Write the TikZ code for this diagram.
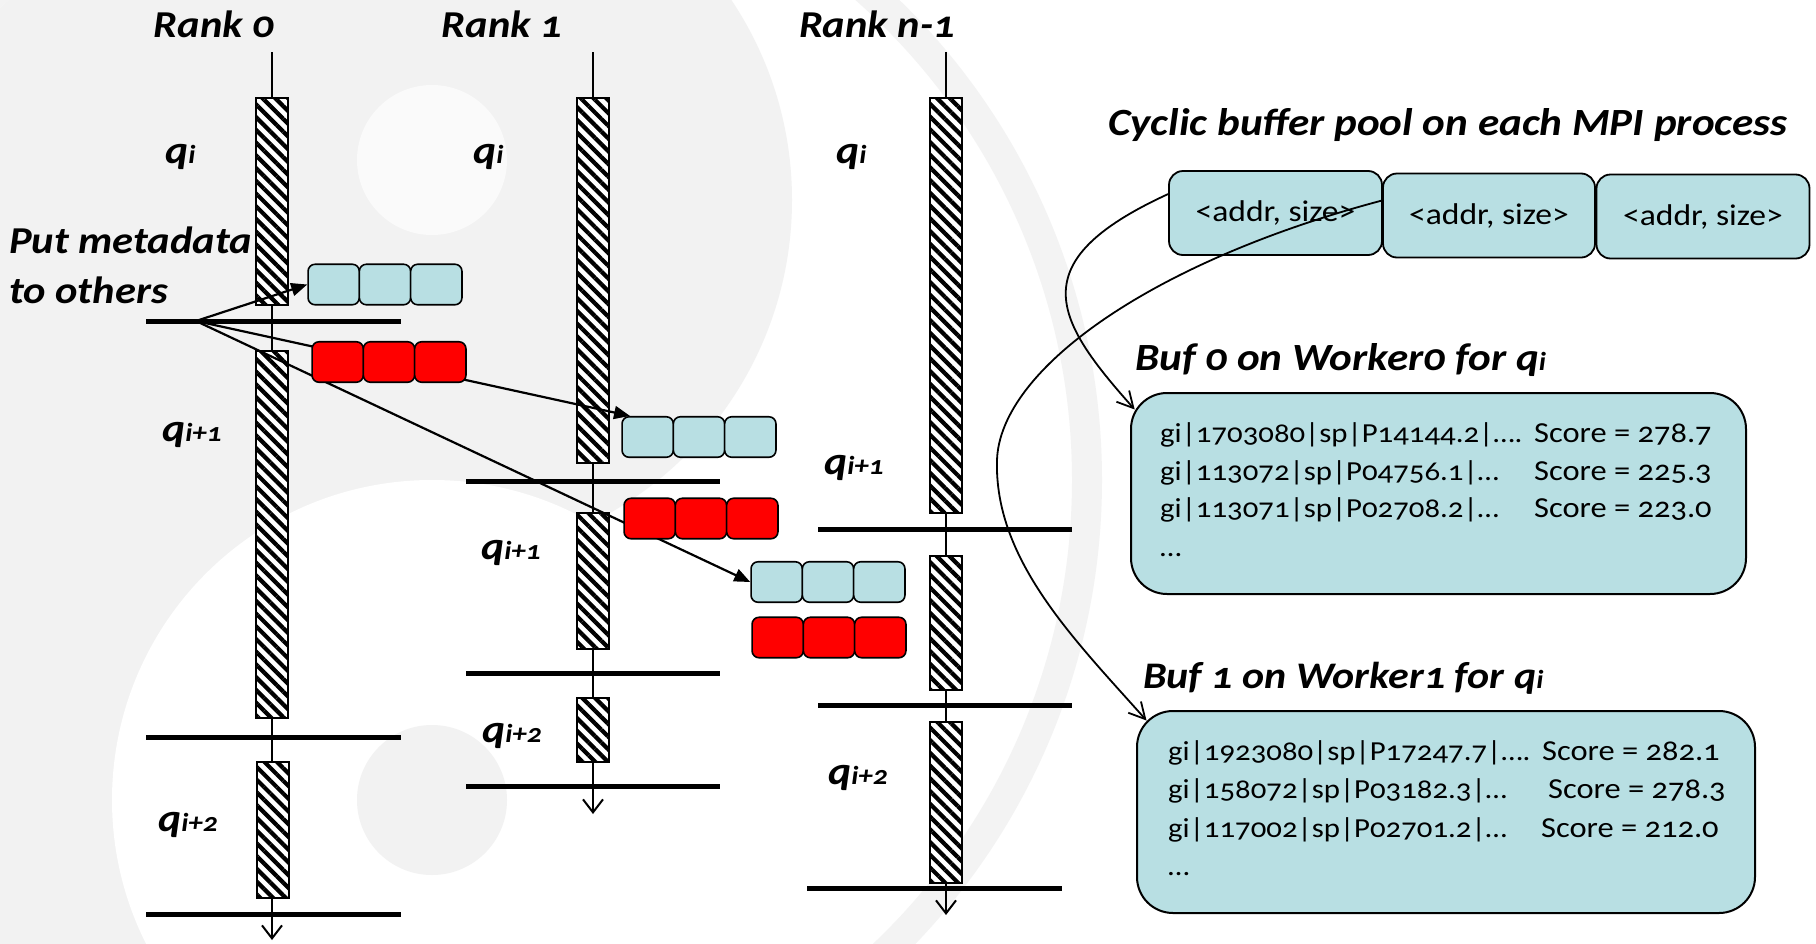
\documentclass[tikz,border=0pt]{standalone}
\usepackage{fontspec}
\setmainfont{Carlito}[FakeStretch=1.12,Numbers=OldStyle]
\usetikzlibrary{arrows.meta,patterns.meta,calc}

\definecolor{cellblue}{HTML}{B8DFE3}
\definecolor{cellred}{HTML}{FF0000}
\definecolor{wmgray}{HTML}{F2F2F2}
\definecolor{wmring}{HTML}{F3F3F3}

% index after a bold italic q
\newcommand\qsub[1]{q{\fontsize{26}{28}\selectfont #1}}

\tikzset{
  life/.style={line width=2pt,-{Straight Barb[length=13pt,width=20pt]}},
  hatchbar/.style={draw,line width=2pt,preaction={fill=white},
    pattern={Lines[angle=-45,distance=9pt,line width=4.2pt]},
    inner sep=0pt,minimum width=32pt},
  sync/.style={line width=5pt},
  fanarrow/.style={line width=2.2pt,-{Triangle[length=16pt,width=13pt]}},
  cellb/.style={draw,line width=1.6pt,fill=cellblue,rounded corners=7pt,
    inner sep=0pt,minimum width=51.3pt,minimum height=40.5pt},
  cellr/.style={cellb,fill=cellred},
  addrbox/.style={draw,line width=1.8pt,fill=cellblue,rounded corners=14pt,
    inner sep=0pt,minimum width=213pt,minimum height=84pt,
    font=\fontsize{30}{32}\selectfont},
  bufbox/.style={draw,line width=2pt,fill=cellblue,rounded corners=36pt,
    inner sep=0pt},
  curvearrow/.style={line width=1.8pt,-{Straight Barb[length=16pt,width=17pt]}},
  ranklabel/.style={font=\fontsize{38}{42}\selectfont\bfseries\itshape,
    anchor=base,inner sep=0pt},
  qlabel/.style={font=\fontsize{39}{42}\selectfont\bfseries\itshape,
    anchor=base west,inner sep=0pt},
  bigtitle/.style={font=\fontsize{38.5}{42}\selectfont\bfseries\itshape,
    anchor=base west,inner sep=0pt},
  sidetext/.style={font=\fontsize{38}{42}\selectfont\bfseries\itshape,
    anchor=base west,inner sep=0pt},
  hit/.style={font=\fontsize{27.5}{30}\selectfont,anchor=base west,inner sep=0pt},
  score/.style={font=\fontsize{29}{32}\selectfont,anchor=base west,inner sep=0pt},
}

\begin{document}
\begin{tikzpicture}[x=1pt,y=-1pt]
\useasboundingbox (0,0) rectangle (1816,943);

% faint yin-yang watermark in the background
\fill[white] (0,0) rectangle (1816,943);
\begin{scope}
  \clip (432,480) circle[radius=640];
  \fill[wmgray] (-300,-300) rectangle (432,1300);
  \fill[wmgray] (432,200) circle[radius=360];
\end{scope}
\fill[white] (432,800) circle[radius=320];
\fill[white!60!wmgray] (432,160) circle[radius=75];
\fill[wmgray] (432,800) circle[radius=75];
\draw[wmring,line width=30pt] (432,480) circle[radius=655];

% time lines of the three ranks
\coordinate (l0top) at (272,52);  \coordinate (l0bot) at (272,940);
\coordinate (l1top) at (593,52);  \coordinate (l1bot) at (593,814);
\coordinate (l2top) at (946,52);  \coordinate (l2bot) at (946,915);
\draw[life] (l0top) -- (l0bot);
\draw[life] (l1top) -- (l1bot);
\draw[life] (l2top) -- (l2bot);

% computation phases
\node[hatchbar,minimum height=207pt] (r0p0) at (272,201.5) {};
\node[hatchbar,minimum height=367pt] (r0p1) at (272,534.5) {};
\node[hatchbar,minimum height=136pt] (r0p2) at (273,830) {};
\node[hatchbar,minimum height=365pt] (r1p0) at (593,280.5) {};
\node[hatchbar,minimum height=136pt] (r1p1) at (593,581) {};
\node[hatchbar,minimum height=64pt]  (r1p2) at (593,730) {};
\node[hatchbar,minimum height=415pt] (r2p0) at (946,305.5) {};
\node[hatchbar,minimum height=134pt] (r2p1) at (946,623) {};
\node[hatchbar,minimum height=161pt] (r2p2) at (946,802.5) {};

% query boundaries
\draw[sync] (146,321) -- (401,321);
\draw[sync] (146,737) -- (401,737);
\draw[sync] (146,914) -- (401,914);
\draw[sync] (466,481) -- (720,481);
\draw[sync] (466,673) -- (720,673);
\draw[sync] (466,786) -- (720,786);
\draw[sync] (818,529) -- (1072,529);
\draw[sync] (818,705) -- (1072,705);
\draw[sync] (807,888) -- (1062,888);

% metadata buffers
\foreach \k/\n in {0/a,1/b,2/c}{
  \node[cellb] (b0\n) at ({333.7+51.3*\k},284.5) {};
  \node[cellb] (b1\n) at ({647.7+51.3*\k},437) {};
  \node[cellb] (b2\n) at ({776.7+51.3*\k},582) {};
}

% metadata is put from rank 0 to the others
\coordinate (fan) at (196,321);
\draw[fanarrow] (fan) -- (b0a.west);
\draw[fanarrow] (fan) -- (b1a.130);
\draw[fanarrow] (fan) -- (b2a.west);

\foreach \k/\n in {0/a,1/b,2/c}{
  \node[cellr] (c0\n) at ({337.7+51.3*\k},362) {};
  \node[cellr] (c1\n) at ({649.7+51.3*\k},518.5) {};
  \node[cellr] (c2\n) at ({777.7+51.3*\k},637.5) {};
}

% rank and query labels
\node[ranklabel] (rk0) at (214,37) {Rank 0};
\node[ranklabel] (rk1) at (502,37) {Rank 1};
\node[ranklabel] (rk2) at (877,37) {Rank n-1};

\node[qlabel] (q00) at (165,163) {\qsub{i}};
\node[qlabel] (q10) at (473,163) {\qsub{i}};
\node[qlabel] (q20) at (836,163) {\qsub{i}};
\node[qlabel] (q01) at (162,441) {\qsub{i+1}};
\node[qlabel] (q11) at (481,559) {\qsub{i+1}};
\node[qlabel] (q21) at (824,474) {\qsub{i+1}};
\node[qlabel] (q02) at (158,831) {\qsub{i+2}};
\node[qlabel] (q12) at (482,742) {\qsub{i+2}};
\node[qlabel] (q22) at (828,784) {\qsub{i+2}};

\node[sidetext] (put1) at (9,253) {Put metadata};
\node[sidetext] (put2) at (9,303) {to others};

% buffer pool and worker buffers
\node[bigtitle] (pooltitle) at (1108,135) {Cyclic buffer pool on each MPI process};
\node[addrbox] (a1) at (1275.5,213) {<addr, size>};
\node[addrbox,minimum width=212pt] (a2) at (1489,215.5) {<addr, size>};
\node[addrbox] (a3) at (1703,216.5) {<addr, size>};

\node[bigtitle] (buf0title) at (1135,370) {Buf 0 on Worker0 for \qsub{i}};
\node[bufbox,minimum width=615pt,minimum height=201pt] (bufA) at (1438.5,493.5) {};
\node[hit] (h01) at (1160,442) {gi|1703080|sp|P14144.2|….};
\node[hit] (h02) at (1160,480) {gi|113072|sp|P04756.1|…};
\node[hit] (h03) at (1160,517) {gi|113071|sp|P02708.2|…};
\node[hit] (h04) at (1160,556) {…};
\node[score] (s01) at (1534,442) {Score = 278.7};
\node[score] (s02) at (1534,480) {Score = 225.3};
\node[score] (s03) at (1534,517) {Score = 223.0};

\node[bigtitle,font=\fontsize{37.5}{42}\selectfont\bfseries\itshape] (buf1title) at (1143,688) {Buf 1 on Worker1 for \qsub{i}};
\node[bufbox,minimum width=618pt,minimum height=202pt] (bufB) at (1446,812) {};
\node[hit] (h11) at (1168,760) {gi|1923080|sp|P17247.7|….};
\node[hit] (h12) at (1168,798) {gi|158072|sp|P03182.3|…};
\node[hit] (h13) at (1168,837) {gi|117002|sp|P02701.2|…};
\node[hit] (h14) at (1168,875) {…};
\node[score] (s11) at (1542,760) {Score = 282.1};
\node[score] (s12) at (1548,798) {Score = 278.3};
\node[score] (s13) at (1541,837) {Score = 212.0};

% pool entries point to the worker buffers
\coordinate (tipA) at ($(bufA.north west)+(4.7,17.5)$);
\coordinate (tipB) at ($(bufB.north west)+(10.5,10.5)$);
\draw[curvearrow] (a1.170) .. controls (1020,262) and (1055,320) .. (tipA);
\draw[curvearrow] (a2.172) .. controls (1150,262) and (1000,370) .. (997,460)
  .. controls (994,560) and (1075,640) .. (tipB);
\end{tikzpicture}
\end{document}
